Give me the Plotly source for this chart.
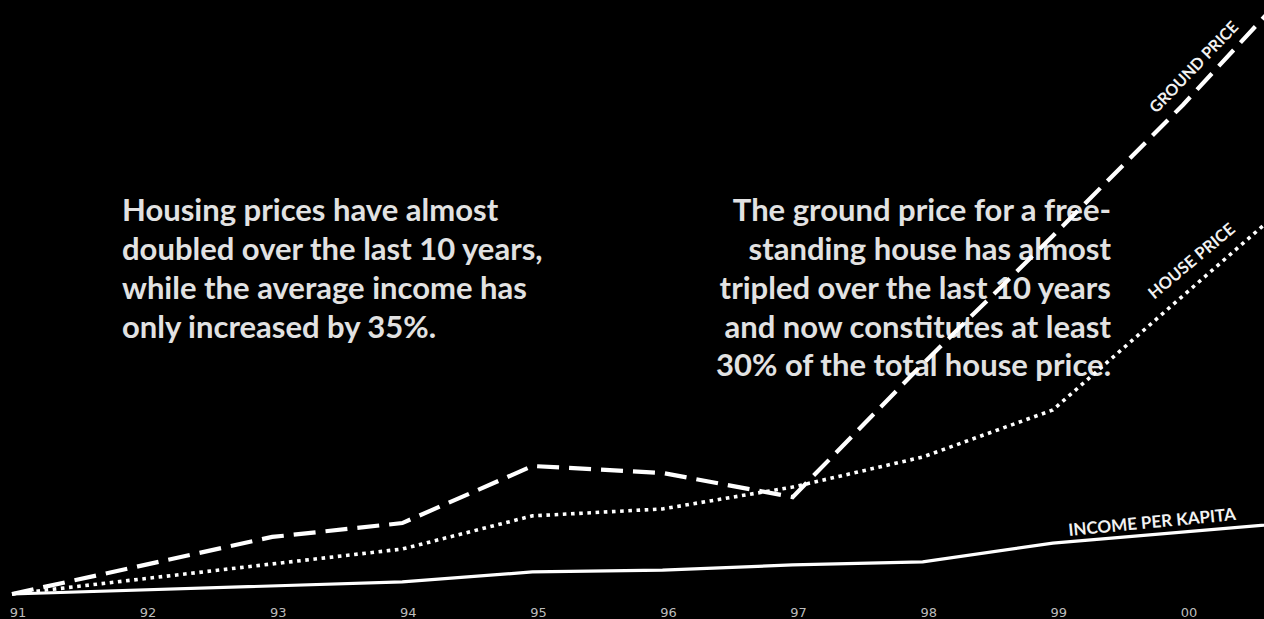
import plotly.graph_objects as go

# ---- data (index, 1991 = 100; series continue to 2001, clipped at right edge) ----
years = [1991, 1992, 1993, 1994, 1995, 1996, 1997, 1998, 1999, 2000, 2001]
ground_price = [100, 111.1, 122.2, 127.6, 149.8, 147.1, 137.7, 189.5, 239.3, 290.3, 345.1]
house_price = [100, 106.0, 111.7, 117.5, 130.4, 133.1, 141.6, 153.3, 171.6, 216.0, 260.3]
income_per_capita = [100, 101.6, 103.1, 104.7, 108.6, 109.3, 111.3, 112.5, 119.8, 124.1, 128.4]

tick_vals = [1991, 1992, 1993, 1994, 1995, 1996, 1997, 1998, 1999, 2000]
tick_text = ["91", "92", "93", "94", "95", "96", "97", "98", "99", "00"]

left_text = [
    "Housing prices have almost",
    "doubled over the last 10 years,",
    "while the average income has",
    "only increased by 35%.",
]
right_text = [
    "The ground price for a free-",
    "standing house has almost",
    "tripled over the last 10 years",
    "and now constitutes at least",
    "30% of the total house price.",
]

FONT = "Lato, Roboto, sans-serif"
W, H = 1264, 619
MB = 16
PH = H - MB

fig = go.Figure()

# Text blocks (drawn first, on the pixel-based base axes, so lines pass over them)
row_y_left = [213, 252, 291, 330]
row_y_right = [213, 252, 291, 330, 368]
fig.add_trace(go.Scatter(
    x=[122] * len(left_text), y=row_y_left, text=left_text, mode="text",
    textposition="middle right",
    textfont=dict(family=FONT, size=31, color="#e2e2e2", weight="bold"),
    xaxis="x", yaxis="y", hoverinfo="skip",
))
fig.add_trace(go.Scatter(
    x=[1111] * len(right_text), y=row_y_right, text=right_text, mode="text",
    textposition="middle left",
    textfont=dict(family=FONT, size=31, color="#e2e2e2", weight="bold"),
    xaxis="x", yaxis="y", hoverinfo="skip",
))

# Lines on overlay axes (drawn above the text)
fig.add_trace(go.Scatter(
    x=years, y=income_per_capita, mode="lines",
    line=dict(color="white", width=3.2),
    xaxis="x2", yaxis="y2", name="Income per kapita",
))
fig.add_trace(go.Scatter(
    x=years, y=house_price, mode="lines",
    line=dict(color="white", width=3.6, dash="3.6px,4.6px"),
    xaxis="x2", yaxis="y2", name="House price",
))
fig.add_trace(go.Scatter(
    x=years, y=ground_price, mode="lines",
    line=dict(color="white", width=4.2, dash="22px,10px"),
    xaxis="x2", yaxis="y2", name="Ground price",
))

step = 130.1
x0px = 12
xr = [1991 - x0px / step, 1991 + (W - x0px) / step]
k = 2.57
base_px = 594
yr = [100 - (PH - base_px) / k, 100 + base_px / k]

fig.update_layout(
    width=W, height=H,
    paper_bgcolor="black", plot_bgcolor="black",
    margin=dict(l=0, r=0, t=0, b=MB),
    showlegend=False,
    xaxis=dict(range=[0, W], visible=False, fixedrange=True),
    yaxis=dict(range=[PH, 0], visible=False, fixedrange=True),
    xaxis2=dict(
        overlaying="x", side="bottom", range=xr,
        tickvals=tick_vals, ticktext=tick_text, ticklabelshift=6,
        showgrid=False, zeroline=False, showline=False, ticks="",
        tickfont=dict(family="DejaVu Sans, sans-serif", size=13, color="#bcbcbc"),
    ),
    yaxis2=dict(overlaying="y", range=yr, visible=False),
    annotations=[
        dict(x=1193, y=66, xref="x", yref="y", text="GROUND PRICE", showarrow=False,
             textangle=-46, font=dict(family=FONT, size=16, color="#f2f2f2", weight="bold")),
        dict(x=1191, y=261, xref="x", yref="y", text="HOUSE PRICE", showarrow=False,
             textangle=-40, font=dict(family=FONT, size=16.5, color="#f2f2f2", weight="bold")),
        dict(x=1152, y=521, xref="x", yref="y", text="INCOME PER KAPITA", showarrow=False,
             textangle=-5.5, font=dict(family=FONT, size=17, color="#f2f2f2", weight="bold")),
    ],
)

fig.write_html(
    "out.html",
    config={"displayModeBar": False},
    post_script="document.body.style.margin='0';document.body.style.overflow='hidden';",
)
